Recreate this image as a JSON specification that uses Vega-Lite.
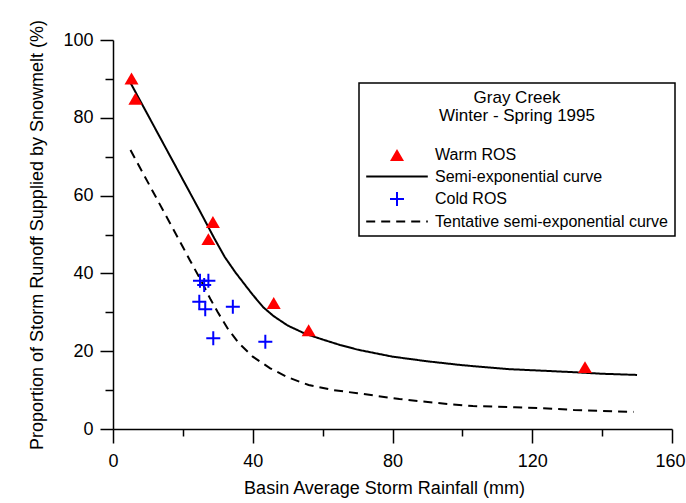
{
  "$schema": "https://vega.github.io/schema/vega-lite/v6.json",
  "width": 559,
  "height": 389,
  "autosize": {"type": "none"},
  "padding": {"left": 113, "top": 40, "right": 14, "bottom": 74},
  "background": "white",
  "config": {
    "view": {"stroke": null},
    "font": "Liberation Sans",
    "axis": {
      "grid": false,
      "domainColor": "black",
      "domainWidth": 1.5,
      "tickColor": "black",
      "tickWidth": 1.5,
      "labelFont": "Liberation Sans",
      "labelFontSize": 18,
      "labelColor": "black",
      "labelOverlap": false,
      "labelFlush": false,
      "titleFont": "Liberation Sans",
      "titleFontSize": 18,
      "titleFontWeight": "normal",
      "titleColor": "black"
    },
    "legend": {
      "orient": "none",
      "legendX": 246,
      "legendY": 43,
      "strokeColor": "black",
      "strokeWidth": 1.5,
      "fillColor": "white",
      "padding": 6,
      "titleFont": "Liberation Sans",
      "titleFontSize": 17,
      "titleFontWeight": "normal",
      "titleColor": "black",
      "titleAnchor": "middle",
      "titleAlign": "center",
      "titleLineHeight": 18,
      "titleBaseline": "line-top",
      "titlePadding": 23,
      "labelFont": "Liberation Sans",
      "labelFontSize": 16,
      "labelColor": "black",
      "labelLimit": 400,
      "symbolSize": 196,
      "symbolStrokeWidth": 2,
      "symbolOffset": 24,
      "labelOffset": 30,
      "rowPadding": 3.5
    }
  },
  "data": {
    "values": [
      {"kind": "point", "series": "Warm ROS", "x": 5.3, "y": 90.1},
      {"kind": "point", "series": "Warm ROS", "x": 6.4, "y": 84.9},
      {"kind": "point", "series": "Warm ROS", "x": 28.6, "y": 53.2},
      {"kind": "point", "series": "Warm ROS", "x": 27.3, "y": 48.8},
      {"kind": "point", "series": "Warm ROS", "x": 46.0, "y": 32.4},
      {"kind": "point", "series": "Warm ROS", "x": 56.0, "y": 25.4},
      {"kind": "point", "series": "Warm ROS", "x": 135.1, "y": 15.9},
      {"kind": "point", "series": "Cold ROS", "x": 24.9, "y": 38.1},
      {"kind": "point", "series": "Cold ROS", "x": 27.3, "y": 38.1},
      {"kind": "point", "series": "Cold ROS", "x": 26.1, "y": 37.0},
      {"kind": "point", "series": "Cold ROS", "x": 24.7, "y": 32.7},
      {"kind": "point", "series": "Cold ROS", "x": 26.4, "y": 30.8},
      {"kind": "point", "series": "Cold ROS", "x": 34.3, "y": 31.4},
      {"kind": "point", "series": "Cold ROS", "x": 28.7, "y": 23.3},
      {"kind": "point", "series": "Cold ROS", "x": 43.6, "y": 22.4},
      {"kind": "curve", "series": "Semi-exponential curve", "x": 5, "y": 89.0},
      {"kind": "curve", "series": "Semi-exponential curve", "x": 10, "y": 80.7},
      {"kind": "curve", "series": "Semi-exponential curve", "x": 15, "y": 72.4},
      {"kind": "curve", "series": "Semi-exponential curve", "x": 20, "y": 64.1},
      {"kind": "curve", "series": "Semi-exponential curve", "x": 25, "y": 55.8},
      {"kind": "curve", "series": "Semi-exponential curve", "x": 29, "y": 49.0},
      {"kind": "curve", "series": "Semi-exponential curve", "x": 32, "y": 44.2},
      {"kind": "curve", "series": "Semi-exponential curve", "x": 35, "y": 40.3},
      {"kind": "curve", "series": "Semi-exponential curve", "x": 38, "y": 36.8},
      {"kind": "curve", "series": "Semi-exponential curve", "x": 40, "y": 34.5},
      {"kind": "curve", "series": "Semi-exponential curve", "x": 43, "y": 31.3},
      {"kind": "curve", "series": "Semi-exponential curve", "x": 46, "y": 29.0},
      {"kind": "curve", "series": "Semi-exponential curve", "x": 50, "y": 26.6},
      {"kind": "curve", "series": "Semi-exponential curve", "x": 55, "y": 24.5},
      {"kind": "curve", "series": "Semi-exponential curve", "x": 60, "y": 23.0},
      {"kind": "curve", "series": "Semi-exponential curve", "x": 65, "y": 21.6},
      {"kind": "curve", "series": "Semi-exponential curve", "x": 70, "y": 20.4},
      {"kind": "curve", "series": "Semi-exponential curve", "x": 80, "y": 18.6},
      {"kind": "curve", "series": "Semi-exponential curve", "x": 90, "y": 17.4},
      {"kind": "curve", "series": "Semi-exponential curve", "x": 100, "y": 16.4},
      {"kind": "curve", "series": "Semi-exponential curve", "x": 113, "y": 15.4},
      {"kind": "curve", "series": "Semi-exponential curve", "x": 125, "y": 14.9},
      {"kind": "curve", "series": "Semi-exponential curve", "x": 132, "y": 14.6},
      {"kind": "curve", "series": "Semi-exponential curve", "x": 140, "y": 14.2},
      {"kind": "curve", "series": "Semi-exponential curve", "x": 150, "y": 13.9},
      {"kind": "curve", "series": "Tentative semi-exponential curve", "x": 5, "y": 71.7},
      {"kind": "curve", "series": "Tentative semi-exponential curve", "x": 10, "y": 63.4},
      {"kind": "curve", "series": "Tentative semi-exponential curve", "x": 15, "y": 55.1},
      {"kind": "curve", "series": "Tentative semi-exponential curve", "x": 20, "y": 46.8},
      {"kind": "curve", "series": "Tentative semi-exponential curve", "x": 22, "y": 43.4},
      {"kind": "curve", "series": "Tentative semi-exponential curve", "x": 25, "y": 38.5},
      {"kind": "curve", "series": "Tentative semi-exponential curve", "x": 28, "y": 33.2},
      {"kind": "curve", "series": "Tentative semi-exponential curve", "x": 30, "y": 30.0},
      {"kind": "curve", "series": "Tentative semi-exponential curve", "x": 33, "y": 25.6},
      {"kind": "curve", "series": "Tentative semi-exponential curve", "x": 36, "y": 22.1},
      {"kind": "curve", "series": "Tentative semi-exponential curve", "x": 40, "y": 18.6},
      {"kind": "curve", "series": "Tentative semi-exponential curve", "x": 45, "y": 15.6},
      {"kind": "curve", "series": "Tentative semi-exponential curve", "x": 50, "y": 13.3},
      {"kind": "curve", "series": "Tentative semi-exponential curve", "x": 56, "y": 11.3},
      {"kind": "curve", "series": "Tentative semi-exponential curve", "x": 63, "y": 10.0},
      {"kind": "curve", "series": "Tentative semi-exponential curve", "x": 70, "y": 9.2},
      {"kind": "curve", "series": "Tentative semi-exponential curve", "x": 82, "y": 7.7},
      {"kind": "curve", "series": "Tentative semi-exponential curve", "x": 95, "y": 6.5},
      {"kind": "curve", "series": "Tentative semi-exponential curve", "x": 103, "y": 5.9},
      {"kind": "curve", "series": "Tentative semi-exponential curve", "x": 115, "y": 5.6},
      {"kind": "curve", "series": "Tentative semi-exponential curve", "x": 122, "y": 5.4},
      {"kind": "curve", "series": "Tentative semi-exponential curve", "x": 132, "y": 4.9},
      {"kind": "curve", "series": "Tentative semi-exponential curve", "x": 149, "y": 4.4}
    ]
  },
  "resolve": {"axis": {"x": "independent", "y": "independent"}},
  "layer": [
    {
      "transform": [{"filter": "datum.kind == 'curve'"}],
      "mark": {"type": "line", "strokeWidth": 2, "interpolate": "linear"},
      "encoding": {
        "x": {
          "field": "x",
          "type": "quantitative",
          "scale": {"domain": [0, 160], "nice": false, "zero": false},
          "axis": {
            "orient": "bottom",
            "title": "Basin Average Storm Rainfall (mm)",
            "values": [0, 40, 80, 120, 160],
            "tickSize": 14,
            "labelPadding": 9,
            "labelOffset": {"condition": {"test": "datum.value == 160", "value": -2}, "value": 0},
            "titleX": 271,
            "titleY": 64,
            "titleAlign": "center",
            "titleBaseline": "alphabetic"
          }
        },
        "y": {
          "field": "y",
          "type": "quantitative",
          "scale": {"domain": [0, 100], "nice": false},
          "axis": {
            "orient": "left",
            "title": "Proportion of Storm Runoff Supplied by Snowmelt (%)",
            "values": [0, 20, 40, 60, 80, 100],
            "tickSize": 13,
            "labelPadding": 7,
            "titleAngle": -90,
            "titleX": -71,
            "titleY": 194.5,
            "titleAlign": "center",
            "titleBaseline": "alphabetic"
          }
        },
        "stroke": {
          "field": "series",
          "type": "nominal",
          "title": ["Gray Creek", "Winter - Spring 1995"],
          "scale": {
            "domain": ["Warm ROS", "Semi-exponential curve", "Cold ROS", "Tentative semi-exponential curve"],
            "range": ["transparent", "black", "blue", "black"]
          }
        },
        "strokeDash": {
          "field": "series",
          "type": "nominal",
          "title": ["Gray Creek", "Winter - Spring 1995"],
          "scale": {
            "domain": ["Warm ROS", "Semi-exponential curve", "Cold ROS", "Tentative semi-exponential curve"],
            "range": [[1, 0], [1, 0], [1, 0], [9, 6]]
          }
        }
      }
    },
    {
      "transform": [{"filter": "datum.kind == 'point'"}],
      "mark": {"type": "point", "size": 196, "strokeWidth": 2, "opacity": 1},
      "encoding": {
        "x": {
          "field": "x",
          "type": "quantitative",
          "scale": {"domain": [0, 160], "nice": false, "zero": false},
          "axis": {
            "orient": "bottom",
            "title": null,
            "values": [20, 60, 100, 140],
            "tickSize": 7,
            "labels": false,
            "domain": false
          }
        },
        "y": {
          "field": "y",
          "type": "quantitative",
          "scale": {"domain": [0, 100], "nice": false},
          "axis": {
            "orient": "left",
            "title": null,
            "values": [10, 30, 50, 70, 90],
            "tickSize": 8,
            "labels": false,
            "domain": false
          }
        },
        "shape": {
          "field": "series",
          "type": "nominal",
          "title": ["Gray Creek", "Winter - Spring 1995"],
          "scale": {
            "domain": ["Warm ROS", "Semi-exponential curve", "Cold ROS", "Tentative semi-exponential curve"],
            "range": ["M0,-0.85L1,0.85L-1,0.85Z", "M-4.4,0L4.4,0", "M-1,0L1,0M0,-1L0,1", "M-4.4,0L4.4,0"]
          }
        },
        "fill": {
          "field": "series",
          "type": "nominal",
          "title": ["Gray Creek", "Winter - Spring 1995"],
          "scale": {
            "domain": ["Warm ROS", "Semi-exponential curve", "Cold ROS", "Tentative semi-exponential curve"],
            "range": ["red", "transparent", "transparent", "transparent"]
          }
        },
        "stroke": {
          "field": "series",
          "type": "nominal",
          "title": ["Gray Creek", "Winter - Spring 1995"]
        }
      }
    }
  ]
}
